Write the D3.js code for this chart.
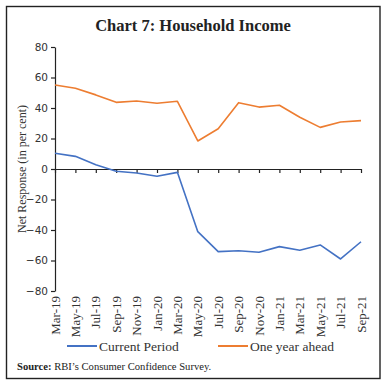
<!DOCTYPE html>
<html>
<head>
<meta charset="utf-8">
<script src="https://cdn.jsdelivr.net/npm/d3@7"></script>
<style>
  body { margin: 0; background: #fff; }
  svg { display: block; }
</style>
</head>
<body>
<svg id="chart" width="386" height="387"></svg>
<script>
const months = ["Mar-19", "May-19", "Jul-19", "Sep-19", "Nov-19", "Jan-20", "Mar-20", "May-20",
  "Jul-20", "Sep-20", "Nov-20", "Jan-21", "Mar-21", "May-21", "Jul-21", "Sep-21"];
const currentPeriod = [10.3, 8.3, 2.8, -1.5, -2.6, -4.8, -2.2, -41.1, -54.2, -53.6, -54.6, -50.9, -53.3, -49.8, -59.0, -47.7];
const oneYearAhead = [55.1, 52.9, 48.6, 43.7, 44.6, 43.1, 44.4, 18.4, 26.4, 43.5, 40.6, 41.8, 33.9, 27.3, 30.8, 31.7];
const yTicks = [-80, -60, -40, -20, 0, 20, 40, 60, 80];

const series = [
  { name: "Current Period", values: currentPeriod, color: "#4472c4" },
  { name: "One year ahead", values: oneYearAhead, color: "#ed7d31" },
];

const serif = "'Liberation Serif', 'DejaVu Serif', serif";
const sans = "'DejaVu Sans', Verdana, sans-serif";

const svg = d3.select("#chart");

// frame
svg.append("rect")
  .attr("x", 6.5).attr("y", 6.5)
  .attr("width", 373.5).attr("height", 372)
  .attr("fill", "#fff")
  .attr("stroke", "#222")
  .attr("stroke-width", 1.4);

// title
svg.append("text")
  .attr("x", 193).attr("y", 31)
  .attr("text-anchor", "middle")
  .style("font-family", serif)
  .style("font-weight", "bold")
  .style("font-size", "16.5px")
  .attr("fill", "#222")
  .text("Chart 7: Household Income");

const x = d3.scalePoint().domain(months).range([55, 361]);
const y = d3.scaleLinear().domain([-80, 80]).range([291, 47]);

// y axis
const yAxis = svg.append("g")
  .attr("transform", "translate(55,0)")
  .call(d3.axisLeft(y).tickValues(yTicks).tickSize(4).tickSizeOuter(0).tickPadding(3));
yAxis.select(".domain").attr("stroke", "#222").attr("stroke-width", 1.2);
yAxis.selectAll(".tick line").attr("stroke", "#222").attr("stroke-width", 1.2);
yAxis.selectAll("text")
  .style("font-family", sans)
  .style("font-size", "10.5px")
  .attr("fill", "#333");

// x axis on zero line
const xAxis = svg.append("g")
  .attr("transform", `translate(0,${y(0)})`)
  .call(d3.axisBottom(x).tickSize(4).tickSizeOuter(0).tickFormat(""));
xAxis.select(".domain").attr("stroke", "#222").attr("stroke-width", 1.2);
xAxis.selectAll(".tick line").attr("stroke", "#222").attr("stroke-width", 1.2);

// x labels at bottom, rotated
svg.append("g")
  .selectAll("text")
  .data(months)
  .join("text")
  .attr("transform", (d) => `translate(${x(d) + 4.5},296) rotate(-90)`)
  .attr("text-anchor", "end")
  .style("font-family", serif)
  .style("font-size", "13px")
  .attr("fill", "#333")
  .text((d) => d);

// y axis title
svg.append("text")
  .attr("transform", `translate(26,${y(0)}) rotate(-90)`)
  .attr("text-anchor", "middle")
  .style("font-family", serif)
  .style("font-size", "12px")
  .attr("fill", "#333")
  .text("Net Response (in per cent)");

// lines
const line = d3.line()
  .x((d, i) => x(months[i]))
  .y((d) => y(d));

svg.append("g")
  .selectAll("path")
  .data(series)
  .join("path")
  .attr("d", (d) => line(d.values))
  .attr("fill", "none")
  .attr("stroke", (d) => d.color)
  .attr("stroke-width", 1.6)
  .attr("stroke-linejoin", "round");

// legend
const legendX = [67, 218];
const legend = svg.append("g")
  .selectAll("g")
  .data(series)
  .join("g")
  .attr("transform", (d, i) => `translate(${legendX[i]},346)`);
legend.append("line")
  .attr("x1", 0).attr("x2", 30)
  .attr("stroke", (d) => d.color)
  .attr("stroke-width", 2);
legend.append("text")
  .attr("x", 32).attr("y", 4.5)
  .style("font-family", serif)
  .style("font-size", "13.5px")
  .attr("fill", "#333")
  .text((d) => d.name);

// source
const src = svg.append("text")
  .attr("x", 17).attr("y", 370)
  .style("font-family", serif)
  .style("font-size", "10.6px")
  .attr("fill", "#222");
src.append("tspan").style("font-weight", "bold").text("Source: ");
src.append("tspan").text("RBI\u2019s Consumer Confidence Survey.");
</script>
</body>
</html>
